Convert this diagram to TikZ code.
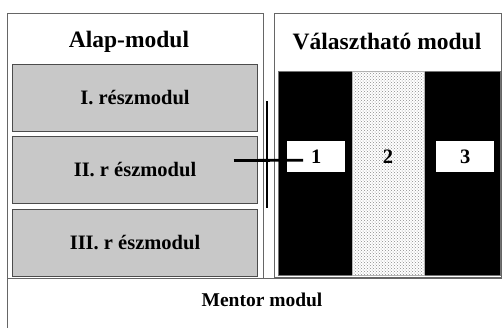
\documentclass[tikz,border=0pt]{standalone}
\usepackage{fontspec}
\setmainfont{Liberation Serif}
\usetikzlibrary{patterns}
\definecolor{partgray}{RGB}{200,200,200}

\begin{document}
\begin{tikzpicture}[
            x=1pt, y=-1pt,
            frame/.style={draw=black!60, line width=1.4pt, minimum width=#1, anchor=north west, inner sep=0pt},
            partbox/.style={draw=black!70, line width=1pt, fill=partgray, minimum width=245pt,
                minimum height=67pt, anchor=north west, font=\fontsize{20.5}{24}\selectfont\bfseries},
            numbox/.style={fill=white, minimum width=58pt, minimum height=31pt, anchor=north west,
                font=\fontsize{20.5}{24}\selectfont\bfseries},
            title/.style={font=\fontsize{23.5}{28}\selectfont\bfseries},
            link/.style={line width=2.8pt, black},
            ]
            \useasboundingbox (0,0) rectangle (502,327);
            \clip (0,0) rectangle (502,327);
            % mentor modul at the bottom
            \node[frame=505pt, minimum height=60pt] (mentor) at (7,278) {};
            \node[font=\fontsize{19.5}{22}\selectfont\bfseries] (mentortitle) at (262,300) {Mentor modul};
            % alap-modul
            \node[frame=256pt, minimum height=265pt] (alap) at (7,13) {};
            \node[title] (alaptitle) at (129,42) {Alap-modul};
            \node[partbox] (r1) at (12,64) {I. részmodul};
            \node[partbox] (r2) at (12,136) {II. r észmodul};
            \node[partbox] (r3) at (12,209) {III. r észmodul};
            % valaszthato modul
            \node[frame=227pt, minimum height=264pt] (valaszt) at (274,13) {};
            \node[title] (valaszttitle) at (387,42) {Választható modul};
            \node[draw=black!55, line width=0.6pt, fill=black, minimum width=222pt, minimum height=204pt,
                anchor=north west, inner sep=0pt] (dark) at (278,71) {};
            \node[draw=black!30, line width=0.5pt, preaction={fill=white}, pattern=crosshatch dots,
                pattern color=black!45, minimum width=72pt, minimum height=204pt,
                anchor=north west, inner sep=0pt] (col2) at (352,71) {};
            \node[numbox] (n1) at (287,141) {1};
            \node[font=\fontsize{20.5}{24}\selectfont\bfseries] (n2) at (388,156.5) {2};
            \node[numbox] (n3) at (436,141) {3};
            % kapcsolat
            \coordinate (barTop) at (267,101);
            \coordinate (barBottom) at (267,208);
            \draw[link] (barTop) -- (barBottom);
            \draw[link] ([shift={(-24pt,9.5pt)}]r2.east) -- ([shift={(16pt,-3.5pt)}]n1.west);
        \end{tikzpicture}
\end{document}
